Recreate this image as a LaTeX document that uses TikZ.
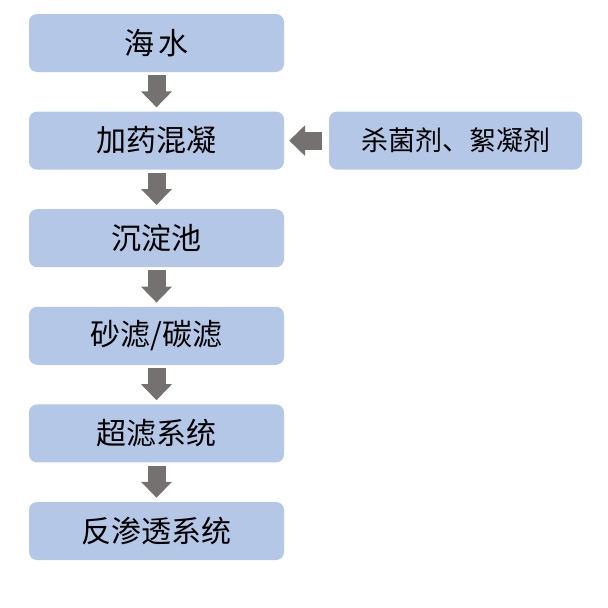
\documentclass[tikz,border=0pt]{standalone}
\usepackage{fontspec}
\setmainfont{Noto Sans CJK SC}
\usetikzlibrary{arrows.meta}
\definecolor{boxblue}{HTML}{B4C7E7}
\definecolor{arrowgray}{HTML}{767171}

\begin{document}
\begin{tikzpicture}[->,>={Triangle[width=30pt,length=16pt]},node distance=97.6pt]
  \tikzstyle{stage}=[fill=boxblue,rounded corners=8pt,minimum width=255pt,minimum height=58pt,inner sep=0pt,font=\fontsize{30pt}{33pt}\selectfont]
  \tikzstyle{flow}=[draw=arrowgray,line width=18pt,shorten <=3pt,shorten >=4pt]
  \useasboundingbox (0pt,0pt) rectangle (608pt,-608pt);
  \node[stage] (A) at (156.5pt,-43pt) {海\,水};
  \node[stage] (B) [below of=A]       {加药混凝};
  \node[stage] (C) [below of=B]       {沉淀池};
  \node[stage] (D) [below of=C]       {砂滤/碳滤};
  \node[stage] (E) [below of=D]       {超滤系统};
  \node[stage] (F) [below of=E]       {反渗透系统};
  \node[stage,minimum width=253pt,font=\fontsize{27pt}{30pt}\selectfont] (G) [right of=B,node distance=299pt] {杀菌剂、絮凝剂};
  \path (A) edge[flow] (B)
        (B) edge[flow] (C)
        (C) edge[flow] (D)
        (D) edge[flow] (E)
        (E) edge[flow] (F)
        (G) edge[flow,shorten <=7pt,shorten >=5pt] (B);
\end{tikzpicture}
\end{document}
